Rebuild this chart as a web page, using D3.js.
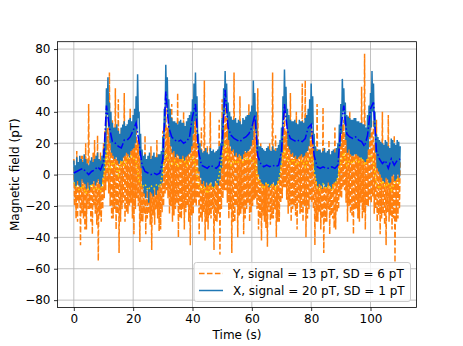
<!DOCTYPE html>
<html>
<head>
<meta charset="utf-8">
<script src="https://cdn.jsdelivr.net/npm/d3@7"></script>
<style>
  body { margin: 0; background: #fff; }
  svg { font-family: "DejaVu Sans", sans-serif; }
</style>
</head>
<body>
<svg id="chart" width="463" height="346"></svg>
<script>
// noisy traces, one value every 0.25 s from 0 to 110 s (one row = 10 s)
const step = 0.25;
const xNoisy = [
  9,-6,6,-8, 11,-4,8,-7, 12,-8,10,-3, 8,-5,13,-6, 10,-9,7,-5, 6,-10,9,-7, 11,-6,8,-4, 10,-7,12,-5, 14,-3,10,-6, 9,-8,12,-2,
  16,2,24,12, 55,38,62,30, 46,20,40,14, 33,12,30,10, 30,11,32,9, 28,7,26,9, 30,8,32,11, 34,12,31,14, 32,13,35,11, 36,15,34,16,
  38,17,42,20, 50,28,64,36, 40,12,26,4, 16,-8,12,-12, 13,-15,10,-10, 12,-18,14,-11, 10,-12,12,-14, 14,-9,11,-13, 11,-10,13,-8, 13,-7,15,-5,
  24,8,42,30, 70,45,62,36, 48,24,42,18, 36,14,34,15, 34,11,33,13, 32,12,34,10, 35,10,33,12, 33,9,31,11, 34,12,36,13, 38,14,40,18,
  48,26,58,34, 65,36,50,22, 26,2,20,-2, 16,-6,14,-4, 15,-8,17,-5, 14,-7,13,-6, 17,-5,15,-8, 16,-8,14,-4, 15,-6,16,-7, 18,-3,20,4,
  36,18,55,38, 66,44,58,36, 46,22,40,18, 37,15,35,16, 35,12,36,14, 33,11,35,13, 34,12,32,10, 36,13,35,15, 37,14,38,15, 38,16,40,18,
  44,22,60,34, 52,28,40,14, 22,0,18,-3, 18,-5,17,-6, 16,-7,15,-5, 17,-6,18,-8, 16,-8,15,-6, 18,-5,16,-7, 15,-7,17,-4, 19,-3,22,6,
  30,14,50,36, 67,42,56,34, 42,18,38,16, 35,13,34,14, 34,11,35,12, 33,10,32,11, 35,12,34,13, 34,11,33,12, 36,14,38,15, 42,18,48,24,
  58,32,50,20, 26,0,18,-4, 15,-8,16,-6, 16,-7,14,-9, 15,-6,17,-8, 14,-8,15,-5, 16,-7,13,-9, 15,-6,16,-5, 14,-5,17,-3, 20,6,32,18,
  45,26,61,40, 55,32,46,22, 38,14,37,16, 36,13,35,12, 35,12,36,13, 36,13,34,12, 34,11,33,10, 33,10,32,9, 32,8,30,10, 38,16,44,24,
  52,30,66,40, 58,30,40,14, 26,4,24,2, 22,0,21,-2, 20,-4,19,-5, 22,-2,21,-3, 18,-6,17,-5, 23,-1,22,0, 20,-4,19,-3, 22,0,21,-2,
  18
];
const yNoisy = [
  10,-20,4,-28, 15,-30,8,-18, 5,-45,12,-25, 12,-28,2,-35, 20,-35,10,-22, 45,-22,6,-30, 8,-38,14,-20, 22,-25,5,-32, 25,-55,10,-26, 14,-30,6,-22,
  20,-15,28,-10, 40,-5,30,-12, 65,-20,25,-28, 35,-28,20,-22, 55,-35,18,-25, 48,-50,22,-30, 30,-22,26,-18, 52,-30,20,-24, 28,-25,34,-20, 42,-18,24,-28,
  30,-38,26,-22, 35,-15,22,-20, 20,-43,10,-30, 15,-30,6,-25, 25,-38,8,-28, 10,-25,4,-32, 18,-48,6,-26, 8,-32,12,-22, 22,-28,5,-36, 12,-35,10,-24,
  28,-20,18,-12, 50,-10,30,-15, 38,-25,22,-20, 45,-30,20,-26, 25,-22,32,-18, 52,-40,24,-28, 30,-28,20,-22, 40,-35,26,-24, 22,-20,30,-30, 35,-45,24,-26,
  28,-25,34,-18, 45,-20,28,-15, 10,-38,14,-28, 30,-30,8,-24, 60,-42,12,-30, 18,-35,6,-26, 40,-28,10,-22, 10,-48,14,-30, 15,-30,5,-25, 35,-51,12,-22,
  48,-15,30,-10, 58,-10,36,-18, 40,-28,26,-22, 30,-50,24,-30, 65,-30,28,-20, 25,-40,32,-26, 50,-25,24,-22, 32,-38,28,-28, 28,-22,34,-18, 45,-30,26,-24,
  30,-20,36,-16, 38,-15,24,-22, 55,-35,10,-28, 20,-42,8,-26, 15,-30,6,-34, 12,-46,10,-24, 20,-32,4,-28, 65,-28,12,-22, 25,-40,8,-30, 14,-30,10,-18,
  22,-15,30,-8, 45,-8,28,-16, 30,-25,24,-20, 52,-30,26,-22, 28,-20,32,-26, 40,-35,22,-18, 32,-25,28,-24, 58,-30,24,-20, 60,-40,26,-28, 35,-22,30,-16,
  40,-18,28,-22, 20,-45,12,-30, 45,-30,8,-24, 15,-35,10,-28, 43,-50,6,-30, 10,-30,12,-22, 22,-38,4,-26, 12,-28,8,-34, 30,-35,10,-24, 15,-22,18,-14,
  28,-15,32,-8, 35,-10,26,-18, 28,-30,22,-20, 40,-25,24,-26, 25,-38,30,-22, 32,-22,20,-28, 20,-30,28,-18, 56,-28,22,-24, 77,-35,26,-20, 30,-20,32,-16,
  45,-18,28,-14, 35,-25,20,-22, 35,-30,10,-26, 20,-38,8,-28, 40,-25,12,-32, 15,-45,6,-24, 38,-30,10,-26, 12,-35,4,-28, 25,-56,8,-30, 10,-28,14,-22,
  8
];

// smoothed traces, one value per second
const xSmooth = [
  1, 2, 3, 4, 2, 0, 2, 3, 5, 3, 8, 44, 30, 21, 20, 18, 17, 22, 22, 24,
  28, 33, 20, 6, 2, 1, 0, 1, 0, 1, 10, 53, 30, 24, 22, 21, 22, 20, 21, 24,
  37, 45, 15, 6, 5, 4, 6, 5, 4, 6, 20, 54, 30, 25, 23, 22, 21, 23, 24, 26,
  30, 38, 12, 7, 5, 6, 5, 6, 5, 6, 15, 45, 28, 23, 22, 21, 22, 21, 23, 30,
  32, 12, 5, 4, 5, 4, 4, 5, 4, 6, 30, 44, 26, 24, 23, 24, 22, 21, 18, 25,
  42, 46, 15, 10, 7, 9, 4, 10, 6, 9, 10
];
const ySmooth = [
  -5, -8, -10, -7, -12, -9, -6, -10, -8, -11, -4, 16, 2, 8, 6, 0, 9, 6, 10, 12,
  11, 8, -4, -8, -6, -10, -7, -9, -6, -8, 2, 14, 8, 6, 9, 5, 8, 10, 6, 9,
  12, 6, -6, -10, -8, -12, -6, -9, -7, 0, 12, 20, 10, 6, 9, 7, 10, 8, 11, 9,
  10, 8, -3, -6, -9, -5, -8, -6, -9, -4, 6, 16, 9, 7, 10, 6, 8, 9, 5, 10,
  12, 2, -8, -10, -6, -9, -7, -10, -6, -2, 8, 14, 6, 9, 7, 10, 8, 11, 6, 9,
  13, 8, -6, -9, -4, -8, -5, -10, -6, -3, -7
];

const xTicks = [0, 20, 40, 60, 80, 100];
const yTicks = [-80, -60, -40, -20, 0, 20, 40, 60, 80];
const legendLabels = ["Y, signal = 13 pT, SD = 6 pT", "X, signal = 20 pT, SD = 1 pT"];

const plotLeft = 57.5, plotRight = 416.5, plotTop = 41.7, plotBottom = 307.5;
const fontSize = 12;

const svg = d3.select("#chart");

const x = d3.scaleLinear().domain([-5.5, 115.5]).range([plotLeft, plotRight]);
const y = d3.scaleLinear().domain([-84.7, 84.7]).range([plotBottom, plotTop]);

svg.append("defs").append("clipPath").attr("id", "clip")
  .append("rect")
  .attr("x", plotLeft).attr("y", plotTop)
  .attr("width", plotRight - plotLeft).attr("height", plotBottom - plotTop);

// grid
const grid = svg.append("g").attr("stroke", "#b0b0b0").attr("stroke-width", 0.8);
grid.selectAll(".gx").data(xTicks).enter().append("line")
  .attr("x1", d => x(d)).attr("x2", d => x(d))
  .attr("y1", plotTop).attr("y2", plotBottom);
grid.selectAll(".gy").data(yTicks).enter().append("line")
  .attr("x1", plotLeft).attr("x2", plotRight)
  .attr("y1", d => y(d)).attr("y2", d => y(d));

const plot = svg.append("g").attr("clip-path", "url(#clip)");

const noisyLine = d3.line().x((d, i) => x(i * step)).y(d => y(d));
const smoothLine = d3.line().x((d, i) => x(i)).y(d => y(d));

// Y first, X on top
plot.append("path").datum(yNoisy)
  .attr("d", noisyLine)
  .attr("fill", "none")
  .attr("stroke", "#ff7f0e")
  .attr("stroke-width", 1.5)
  .attr("stroke-dasharray", "5.55,2.4");

plot.append("path").datum(xNoisy)
  .attr("d", noisyLine)
  .attr("fill", "none")
  .attr("stroke", "#1f77b4")
  .attr("stroke-width", 1.5);

plot.append("path").datum(ySmooth)
  .attr("d", smoothLine)
  .attr("fill", "none")
  .attr("stroke", "gold")
  .attr("stroke-width", 1.5)
  .attr("stroke-dasharray", "1.5,2.5");

plot.append("path").datum(xSmooth)
  .attr("d", smoothLine)
  .attr("fill", "none")
  .attr("stroke", "#0000ff")
  .attr("stroke-width", 1.5)
  .attr("stroke-dasharray", "9.6,2.4,1.5,2.4");

// axes
const xAxis = svg.append("g")
  .attr("transform", `translate(0,${plotBottom})`)
  .call(d3.axisBottom(x).tickValues(xTicks).tickSize(3.5).tickPadding(3.5));
const yAxis = svg.append("g")
  .attr("transform", `translate(${plotLeft},0)`)
  .call(d3.axisLeft(y).tickValues(yTicks).tickSize(3.5).tickPadding(3.5));

[xAxis, yAxis].forEach(a => {
  a.select(".domain").remove();
  a.selectAll("line").attr("stroke", "#000").attr("stroke-width", 0.8);
  a.selectAll("text")
    .attr("font-family", "DejaVu Sans")
    .attr("font-size", fontSize)
    .attr("fill", "#000");
});

// spines
svg.append("rect")
  .attr("x", plotLeft).attr("y", plotTop)
  .attr("width", plotRight - plotLeft).attr("height", plotBottom - plotTop)
  .attr("fill", "none").attr("stroke", "#000").attr("stroke-width", 0.8);

// axis labels
svg.append("text")
  .attr("x", (plotLeft + plotRight) / 2).attr("y", 339)
  .attr("text-anchor", "middle")
  .attr("font-size", fontSize)
  .text("Time (s)");

svg.append("text")
  .attr("transform", `translate(19,${(plotTop + plotBottom) / 2}) rotate(-90)`)
  .attr("text-anchor", "middle")
  .attr("font-size", fontSize)
  .text("Magnetic field (pT)");

// legend
const lg = svg.append("g");
lg.append("rect")
  .attr("x", 194).attr("y", 262.5)
  .attr("width", 216.5).attr("height", 39)
  .attr("rx", 2.5)
  .attr("fill", "#fff").attr("fill-opacity", 0.8)
  .attr("stroke", "#cccccc").attr("stroke-width", 1);

const legendStyles = [
  { color: "#ff7f0e", dash: "5.55,2.4" },
  { color: "#1f77b4", dash: null }
];
legendLabels.forEach((label, i) => {
  const ly = 273.5 + i * 17;
  lg.append("line")
    .attr("x1", 199).attr("x2", 223)
    .attr("y1", ly).attr("y2", ly)
    .attr("stroke", legendStyles[i].color)
    .attr("stroke-width", 1.5)
    .attr("stroke-dasharray", legendStyles[i].dash);
  lg.append("text")
    .attr("x", 233).attr("y", ly + 4.3)
    .attr("font-size", fontSize)
    .text(label);
});
</script>
</body>
</html>
